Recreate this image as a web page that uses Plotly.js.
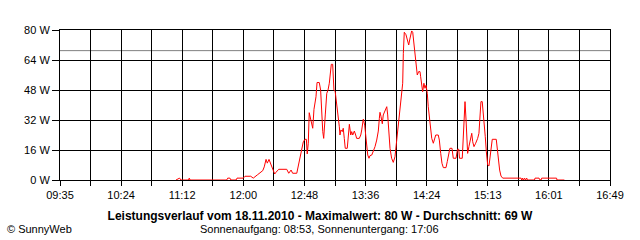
<!DOCTYPE html>
<html>
<head>
<meta charset="utf-8">
<script src="https://cdn.plot.ly/plotly-3.0.1.min.js"></script>
<style>html,body{margin:0;padding:0;background:#fff;}#chart{width:640px;height:240px;}</style>
</head>
<body>
<div id="chart"></div>
<script>
// Time of each reading (18.11.2010)
const times = [
"11:06:30","11:09:20","11:10:30","11:16:25","11:17:00","11:17:35","11:46:30","11:47:20","11:49:05","11:49:55",
"11:53:55","11:54:40","11:59:35","12:01:00","12:05:30","12:07:30","12:10:40","12:12:50","12:15:00","12:16:10",
"12:17:35","12:18:35","12:19:55","12:21:20","12:22:50","12:24:25","12:25:25","12:27:35","12:33:55","12:35:30",
"12:37:20","12:38:35","12:41:50","12:44:25","12:47:00","12:48:20","12:49:25","12:50:05","12:50:55","12:51:40",
"12:53:00","12:54:25","12:55:25","12:57:00","12:57:50","12:59:35","13:00:40","13:01:30","13:02:20","13:03:05",
"13:03:35","13:04:20","13:05:30","13:06:30","13:07:30","13:08:35","13:09:05","13:10:10","13:10:40","13:11:10",
"13:12:10","13:13:20","13:14:35","13:15:25","13:15:55","13:16:40","13:17:45","13:18:30","13:19:20","13:20:05",
"13:21:40","13:22:30","13:23:20","13:24:25","13:25:10","13:26:00","13:27:15","13:28:20","13:29:05","13:31:10",
"13:32:20","13:33:05","13:33:55","13:34:20","13:35:25","13:36:10","13:37:00","13:37:50","13:38:50","13:39:35",
"13:41:00","13:42:15","13:43:35","13:44:55","13:46:10","13:47:00","13:47:30","13:48:20","13:49:20","13:50:05",
"13:51:30","13:52:50","13:53:35","13:54:25","13:55:25","13:56:40","13:58:00","13:59:20","14:00:40","14:01:55",
"14:03:15","14:04:35","14:05:25","14:05:55","14:06:40","14:08:00","14:09:05","14:10:10","14:10:55","14:11:40",
"14:12:30","14:13:20","14:13:50","14:14:55","14:15:55","14:16:55","14:18:00","14:19:05","14:19:35","14:20:40",
"14:21:10","14:22:10","14:23:00","14:23:50","14:24:50","14:25:35","14:27:00","14:28:20","14:29:35","14:30:25",
"14:31:30","14:33:30","14:34:20","14:35:25","14:36:25","14:37:30","14:39:35","14:40:35","14:41:40","14:42:40",
"14:44:20","14:45:20","14:47:30","14:48:40","14:49:40","14:50:15","14:52:25","14:53:10","14:53:45","14:54:35",
"14:55:25","14:56:10","14:56:40","14:57:40","14:59:05","14:59:55","15:00:40","15:01:40","15:03:00","15:04:35",
"15:05:35","15:06:25","15:07:10","15:08:10","15:08:50","15:09:50","15:10:35","15:11:25","15:12:30","15:13:30",
"15:14:20","15:15:05","15:16:05","15:19:15","15:20:00","15:20:50","15:21:55","15:23:00","15:24:20","15:38:50",
"15:39:20","15:40:05","15:40:35","15:41:40","15:42:10","15:43:20","15:43:45","15:49:25","15:49:50","15:53:00",
"15:53:50","15:54:35","15:55:05","16:06:50","16:07:10","16:13:00"];

// Power in W
const watts = [
0,1,0,0,1,0,0,1,1,0,
0,1,1,2,2,1,2.7,3.9,5,7,
11,9,11,8.5,5.7,3.2,4.1,5.7,5.7,3.6,
5.3,3.6,3.6,12.4,20.4,21.7,21.7,13.9,19.6,35.9,
31,27.6,37.7,44.4,52,52,48,35.6,25.8,22.2,
25.8,34.7,46.2,48,51.6,57.8,61.7,61.7,52.4,48,
47.1,40.9,34.7,28.4,24,26.7,25.8,27.6,22.2,16.9,
16.9,25.8,29.7,24,25.8,24,26.1,24,22.2,22.2,
24,26.7,29.3,32.5,29.3,24.9,18.3,13.3,11.6,13,
13.3,15.1,17.8,21.3,26.1,32.9,36.1,33.8,30,34.7,
37.3,39.1,34.7,24,16.9,11.6,9.4,12.4,20.4,30.2,
39.1,45.3,51.6,67.6,78.8,77.5,74.7,72,74.7,77,
79.5,78.8,75.6,68.4,59.6,56,57.8,57.8,55.1,49.8,
47.1,51.6,48.9,50.5,46.2,39.1,31.1,22.2,19.6,21.5,
24,24,21.3,14.2,8.9,6.6,6.6,9.8,13,16.9,
16.9,11.6,11.6,16.4,16.4,11.6,11.6,25.8,36.4,41.8,
32,21.3,14.2,17.8,22.2,24.9,20.4,17.8,19.6,22.2,
24.9,36.4,41.8,41.8,37.3,30.2,23.1,15.1,8,7.5,
12.4,16.4,21.7,21.7,16.4,10.7,5.3,2.1,1,1,
0,1,0,1,0,1,0,0,1,1,
0,0,1,1,0,0];

const xTickLabels = ["09:35","10:24","11:12","12:00","12:48","13:36","14:24","15:13","16:01","16:49"];
const yTickValues = [0,16,32,48,64,80];
const averageW = 69;
const maximumW = 80;
const dateText = "18.11.2010";
const sunrise = "08:53";
const sunset = "17:06";

function toMin(t){const p=t.split(':').map(Number);return p[0]*60+p[1]+(p[2]||0)/60;}
const xs = times.map(toMin);
const xStart = toMin(xTickLabels[0]);
const xEnd = toMin(xTickLabels[xTickLabels.length-1]);
const nGrid = (xTickLabels.length-1)*2;
const tickvals = [], ticktext = [];
for(let k=0;k<=nGrid;k++){
  tickvals.push(xStart + k*(xEnd-xStart)/nGrid);
  ticktext.push(k%2===0 ? xTickLabels[k/2] : '');
}

const font = {family:'"Liberation Sans", Arial, sans-serif', size:11, color:'#000'};

const trace = {
  x: xs, y: watts, type:'scatter', mode:'lines',
  line:{color:'#ff0000', width:1}, hoverinfo:'skip'
};

const layout = {
  width:640, height:240,
  margin:{l:60, r:30, t:30, b:60},
  paper_bgcolor:'#fff', plot_bgcolor:'#fff',
  showlegend:false,
  font: font,
  title:{
    text:'<b>Leistungsverlauf vom '+dateText+' - Maximalwert: '+maximumW+' W - Durchschnitt: '+averageW+' W</b>',
    x:0.5, xanchor:'center', y:0.1, yanchor:'middle', yref:'container',
    font:{family:'"Liberation Sans", Arial, sans-serif', size:12, color:'#000'}
  },
  xaxis:{
    range:[xStart, xEnd], tickmode:'array', tickvals:tickvals, ticktext:ticktext,
    showgrid:true, gridcolor:'#000', gridwidth:1,
    showline:true, linecolor:'#000', linewidth:1, mirror:true,
    ticks:'outside', ticklen:5, tickcolor:'#000', tickwidth:1,
    zeroline:false, tickfont:font, fixedrange:true
  },
  yaxis:{
    range:[0, 80], tickmode:'array', tickvals:yTickValues,
    ticktext: yTickValues.map(v=>v+' W'),
    showgrid:true, gridcolor:'#000', gridwidth:1,
    showline:true, linecolor:'#000', linewidth:1, mirror:true,
    ticks:'outside', ticklen:7, tickcolor:'#000', tickwidth:1,
    zeroline:false, tickfont:font, fixedrange:true
  },
  shapes:[{type:'line', xref:'paper', yref:'y', x0:0, x1:1, y0:averageW, y1:averageW,
    line:{color:'#808080', width:1}, layer:'below'}],
  annotations:[
    {text:'Sonnenaufgang: '+sunrise+', Sonnenuntergang: '+sunset, xref:'paper', yref:'paper',
     x:0.4727, y:-0.327, xanchor:'center', yanchor:'middle', showarrow:false, font:font},
    {text:'© SunnyWeb', xref:'paper', yref:'paper', x:-0.1, y:-0.327,
     xanchor:'left', yanchor:'middle', showarrow:false, font:font}
  ]
};

Plotly.newPlot('chart', [trace], layout, {displayModeBar:false, staticPlot:true});
</script>
</body>
</html>
